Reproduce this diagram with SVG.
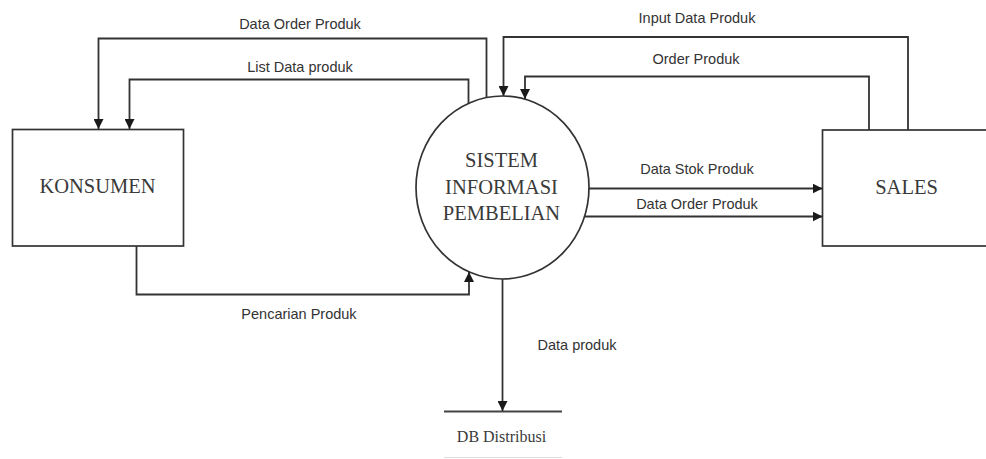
<svg xmlns="http://www.w3.org/2000/svg" width="986" height="459" viewBox="0 0 986 459">
<style>
.box{fill:#fff;stroke:#333;stroke-width:1.7}
.ln{fill:none;stroke:#333;stroke-width:1.8}
.serif{font-family:"Liberation Serif","Times New Roman",serif;fill:#3a3a3a;text-anchor:middle}
.lbl{font-family:"Liberation Sans",Arial,sans-serif;font-size:14.5px;fill:#333;text-anchor:middle}
</style>
<defs>
<marker id="ah" viewBox="0 0 10 10" refX="10" refY="5" markerWidth="10" markerHeight="10" markerUnits="userSpaceOnUse" orient="auto">
<path d="M0,0 L10,5 L0,10 z" fill="#1a1a1a"/>
</marker>
</defs>
<rect width="986" height="459" fill="#fff"/>
<g id="konsumen">
<rect class="box" x="12.5" y="129.5" width="171" height="116.5"/>
<text class="serif" x="97.5" y="193" font-size="20.5">KONSUMEN</text>
</g>
<g id="sistem">
<ellipse class="box" cx="502.5" cy="187.5" rx="86.5" ry="91.5"/>
<text class="serif" x="501.5" y="167" font-size="20.5">SISTEM</text>
<text class="serif" x="501.5" y="193.5" font-size="20.5">INFORMASI</text>
<text class="serif" x="501.5" y="220" font-size="20.5">PEMBELIAN</text>
</g>
<g id="sales">
<rect class="box" x="822.5" y="130" width="175" height="116"/>
<text class="serif" x="906.5" y="193.5" font-size="20.5">SALES</text>
</g>
<g id="db">
<line x1="444" y1="411.5" x2="562" y2="411.5" stroke="#444" stroke-width="1.9"/>
<line x1="444" y1="457.5" x2="562" y2="457.5" stroke="#ddd" stroke-width="1.2"/>
<text class="serif" x="501.5" y="442" font-size="16">DB Distribusi</text>
</g>
<g id="connectors">
<path class="ln" d="M486.5,98 V38.5 H98.5 V129" marker-end="url(#ah)"/>
<path class="ln" d="M468.5,104 V79.5 H129.5 V129" marker-end="url(#ah)"/>
<path class="ln" d="M908,130 V37 H503.5 V96" marker-end="url(#ah)"/>
<path class="ln" d="M869,130 V76.5 H525 V99" marker-end="url(#ah)"/>
<path class="ln" d="M588.5,188.5 H822.5" marker-end="url(#ah)"/>
<path class="ln" d="M584.5,216.5 H822.5" marker-end="url(#ah)"/>
<path class="ln" d="M136.5,246 V294.5 H469 V272" marker-end="url(#ah)"/>
<path class="ln" d="M502.5,279 V411" marker-end="url(#ah)"/>
</g>
<g id="labels">
<text class="lbl" x="300" y="29">Data Order Produk</text>
<text class="lbl" x="300" y="71.5">List Data produk</text>
<text class="lbl" x="697" y="23">Input Data Produk</text>
<text class="lbl" x="696" y="64">Order Produk</text>
<text class="lbl" x="697" y="173.5">Data Stok Produk</text>
<text class="lbl" x="697" y="208.5">Data Order Produk</text>
<text class="lbl" x="299" y="319">Pencarian Produk</text>
<text class="lbl" x="577" y="350">Data produk</text>
</g>
</svg>
